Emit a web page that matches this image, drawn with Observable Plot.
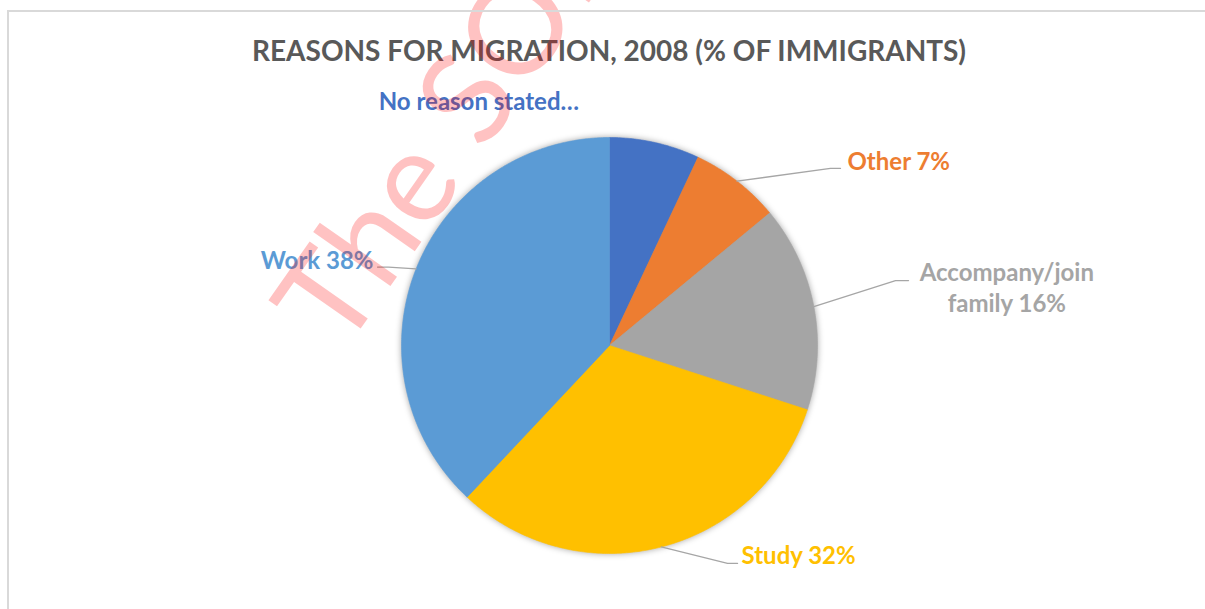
<!DOCTYPE html>
<html><head><meta charset="utf-8">
<script src="https://cdn.jsdelivr.net/npm/d3@7"></script>
<script src="https://cdn.jsdelivr.net/npm/@observablehq/plot@0.6"></script>
<style>
html,body{margin:0;padding:0;background:#fff;}
#wrap{position:relative;width:1205px;height:609px;overflow:hidden;background:#fff;}
#chart{position:absolute;left:0;top:0;}
#border{position:absolute;left:7px;top:10px;width:1220px;height:620px;border:2px solid #D9D9D9;pointer-events:none;}
</style></head><body>
<div id="wrap"><div id="chart"></div><div id="border"></div></div>
<script>
// ---- data ----
const title = "REASONS FOR MIGRATION, 2008 (% OF IMMIGRANTS)";
const categories = ["No reason stated", "Other", "Accompany/join family", "Study", "Work"];
const values = [7, 7, 16, 32, 38];
const labels = ["No reason stated…", "Other 7%", "Accompany/join\nfamily 16%", "Study 32%", "Work 38%"];
const colors = ["#4472C4", "#ED7D31", "#A5A5A5", "#FFC000", "#5B9BD5"];
const watermark = "The SOL";

// ---- layout (pixels) ----
const W = 1205, H = 609, CX = 609, CY = 345, R = 208;
// offsets (px, +right, +down) from each slice's rim point at its mid-angle
const labelLayout = [
  {elbow: null, end: null, text: [-176, -43], anchor: "middle"},
  {elbow: [93.5, -12.7], end: [103.5, -12.7], text: [110.5, -21.5], anchor: "start"},
  {elbow: [81.7, -26], end: [94.7, -26], text: [193, -20], anchor: "middle"},
  {elbow: [66.3, 16.5], end: [76.3, 16.5], text: [80.3, 7], anchor: "start"},
  {elbow: [-27.6, -1.9], end: [-38.6, -1.9], text: [-42.6, -10], anchor: "end"}
];
const watermarkPos = {x: 342, y: 354, rotate: -55, size: 128};

// ---- geometry from data ----
const total = d3.sum(values);
let acc = 0;
const slices = categories.map((name, i) => {
  const a0 = acc / total * 2 * Math.PI; acc += values[i];
  const a1 = acc / total * 2 * Math.PI;
  return {name, i, a0, a1, mid: (a0 + a1) / 2};
});
const slicePts = slices.flatMap(s => {
  const n = Math.max(2, Math.ceil((s.a1 - s.a0) / (Math.PI / 360)));
  const pts = [{name: s.name, x: 0, y: 0}];
  for (let k = 0; k <= n; k++) {
    const a = s.a0 + (s.a1 - s.a0) * k / n;
    pts.push({name: s.name, x: Math.sin(a), y: Math.cos(a)});
  }
  pts.push({name: s.name, x: 0, y: 0});
  return pts;
});
const off = (p, o) => ({x: p.x + o[0] / R, y: p.y - o[1] / R});
const leaderPts = [], labelRows = [];
slices.forEach((s, i) => {
  const L = labelLayout[i];
  const rim = {x: Math.sin(s.mid), y: Math.cos(s.mid)};
  if (L.elbow) {
    leaderPts.push({name: s.name, ...rim});
    leaderPts.push({name: s.name, ...off(rim, L.elbow)});
    leaderPts.push({name: s.name, ...off(rim, L.end)});
  }
  labelRows.push({name: s.name, label: labels[i], anchor: L.anchor, ...off(rim, L.text)});
});
const FONT = "Lato, 'Open Sans', sans-serif";

const chart = Plot.plot({
  width: W, height: H, margin: 0,
  x: {domain: [-CX / R, (W - CX) / R], range: [0, W], axis: null},
  y: {domain: [-(H - CY) / R, CY / R], range: [H, 0], axis: null},
  color: {domain: categories, range: colors},
  style: {background: "transparent", fontFamily: FONT},
  marks: [
    Plot.line(slicePts, {x: "x", y: "y", z: "name", fill: "name", stroke: "name", strokeWidth: 0.6, curve: "linear"}),
    Plot.line(leaderPts, {x: "x", y: "y", z: "name", stroke: "#A6A6A6", strokeWidth: 1.3}),
    ...["start", "middle", "end"].map(a => Plot.text(labelRows.filter(d => d.anchor === a), {
      x: "x", y: "y", text: "label", fill: "name", textAnchor: a,
      fontSize: 24, fontWeight: "bold", fontFamily: FONT, lineHeight: 1.31
    })),
    Plot.text([title], {frameAnchor: "top", lineAnchor: "middle", dx: 6, dy: 52, fontSize: 28, fontWeight: "bold", fill: "#595959", fontFamily: FONT}),
    Plot.text([watermark], {
      x: () => (watermarkPos.x - CX) / R, y: () => (CY - watermarkPos.y) / R,
      rotate: watermarkPos.rotate, textAnchor: "start", lineAnchor: "bottom",
      fontSize: watermarkPos.size, fontFamily: "Lato, sans-serif",
      fill: "#FF0000", fillOpacity: 0.24
    })
  ]
});
const firstLine = chart.querySelector('g[aria-label="line"]');
if (firstLine) firstLine.style.filter = "drop-shadow(0px 0px 3px rgba(0,0,0,0.35))";
document.getElementById("chart").appendChild(chart);
</script>
</body></html>
